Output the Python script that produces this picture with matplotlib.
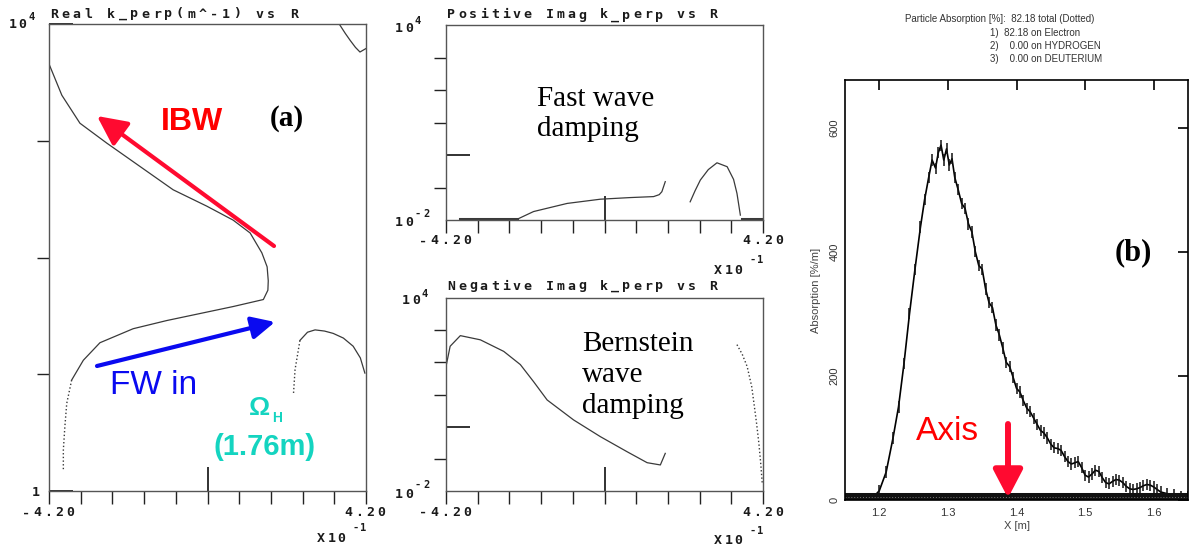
"""Dispersion roots k_perp(R) for the FW -> IBW conversion case, next to the
TORIC-style power absorption profile."""
import numpy as np

import matplotlib
matplotlib.use("Agg")
import matplotlib.pyplot as plt  # noqa: E402
from matplotlib.patches import FancyArrowPatch  # noqa: E402
from matplotlib.ticker import FixedLocator  # noqa: E402

# --- Real k_perp (m^-1): R in units of 1e-1 m, values stored as log10(k)
re_main_x = [-4.19, -3.86, -3.38, -2.67, -1.79, -0.91, -0.02, 0.68, 1.13, 1.44, 1.58,
             1.61, 1.60, 1.48, 0.68, -0.20, -1.08, -1.97, -2.85, -3.29, -3.60]
re_main_logk = [3.65, 3.39, 3.15, 2.98, 2.78, 2.58, 2.44, 2.32, 2.21, 2.04, 1.92,
                1.80, 1.72, 1.64, 1.58, 1.52, 1.46, 1.39, 1.27, 1.12, 0.95]
re_tail_x = [-3.60, -3.73, -3.78, -3.82, -3.82]
re_tail_logk = [0.95, 0.75, 0.55, 0.35, 0.18]
re_arch_x = [2.28, 2.32, 2.45, 2.65, 2.85, 3.10, 3.33, 3.60, 3.86, 4.05, 4.17]
re_arch_logk = [0.84, 1.04, 1.29, 1.36, 1.38, 1.37, 1.35, 1.31, 1.24, 1.14, 1.01]
re_top_x = [3.51, 3.65, 3.78, 3.92, 4.04, 4.20]
re_top_logk = [3.99, 3.92, 3.86, 3.80, 3.76, 3.79]

# --- Positive Imag k_perp
pos_main_x = [-3.82, -3.30, -2.80, -2.32, -1.88, -0.99, -0.11, 0.68, 1.30, 1.45, 1.52, 1.61]
pos_main_logk = [-1.98, -1.98, -1.98, -1.98, -1.74, -1.49, -1.36, -1.31, -1.28, -1.22, -1.13, -0.82]
pos_bump_x = [2.27, 2.40, 2.54, 2.75, 2.98, 3.25, 3.42, 3.51, 3.60]
pos_bump_logk = [-1.44, -1.10, -0.77, -0.45, -0.24, -0.36, -0.75, -1.18, -1.85]
pos_edge_x = [3.65, 3.90, 4.20]
pos_edge_logk = [-1.98, -1.98, -1.98]

# --- Negative Imag k_perp
neg_main_x = [-4.20, -4.09, -3.82, -3.29, -2.67, -2.23, -1.88, -1.52, -0.82, -0.11,
              0.60, 1.13, 1.48, 1.61]
neg_main_logk = [1.87, 2.50, 2.83, 2.70, 2.34, 1.93, 1.40, 0.83, 0.21, -0.31,
                 -0.78, -1.12, -1.19, -0.83]
neg_edge_x = [3.51, 3.65, 3.78, 3.90, 3.96, 4.03, 4.09, 4.14, 4.18]
neg_edge_logk = [2.55, 2.25, 1.87, 1.25, 0.73, 0.10, -0.51, -1.15, -1.76]

# --- Electron absorption profile [%/m] vs major radius X [m]
abs_x = [1.180, 1.190, 1.200, 1.210, 1.220, 1.228, 1.236, 1.244, 1.252, 1.260, 1.266,
         1.272, 1.277, 1.282, 1.286, 1.290, 1.294, 1.298, 1.302, 1.306, 1.310, 1.315,
         1.320, 1.325, 1.330, 1.335, 1.340, 1.345, 1.350, 1.355, 1.360, 1.365, 1.370,
         1.375, 1.380, 1.385, 1.390, 1.395, 1.400, 1.405, 1.410, 1.415, 1.420, 1.425,
         1.430, 1.435, 1.440, 1.445, 1.450, 1.455, 1.460, 1.465, 1.470, 1.475, 1.480,
         1.485, 1.490, 1.495, 1.500, 1.505, 1.510, 1.515, 1.520, 1.525, 1.530, 1.535,
         1.540, 1.545, 1.550, 1.555, 1.560, 1.565, 1.570, 1.575, 1.580, 1.585, 1.590,
         1.595, 1.600, 1.605, 1.610, 1.620, 1.630, 1.640, 1.650]
abs_val = [0, 3, 15, 45, 100, 150, 220, 300, 372, 440, 484,
           520, 548, 535, 560, 572, 548, 566, 540, 550, 520, 500,
           478, 470, 445, 432, 400, 378, 372, 340, 318, 310, 282,
           266, 245, 222, 215, 198, 180, 174, 160, 148, 142, 132,
           122, 112, 108, 100, 90, 84, 83, 80, 70, 62, 58,
           60, 62, 52, 40, 37, 42, 48, 46, 36, 28, 26,
           30, 33, 32, 28, 22, 18, 17, 18, 20, 23, 25,
           24, 21, 17, 13, 10, 8, 6, 5]
abs_header = ["Particle Absorption [%]:  82.18 total (Dotted)",
              "1)  82.18 on Electron",
              "2)    0.00 on HYDROGEN",
              "3)    0.00 on DEUTERIUM"]

W, H = 1189, 554
fig = plt.figure(figsize=(W / 100, H / 100), dpi=100)
fig.patch.set_facecolor("white")


def px(x, y):
    """pixel position (from top-left) -> figure fraction"""
    return x / W, 1 - y / H


def box(l, t, r, b):
    return [l / W, 1 - b / H, (r - l) / W, (b - t) / H]


def mono(x0, y, s, pitch, size=9.5):
    """plotter-style lettering: bold mono glyphs on a fixed wide pitch, x0 = first glyph centre"""
    for i, ch in enumerate(s):
        if ch != " ":
            fig.text(*px(x0 + i * pitch, y), ch, ha="center", va="center", fontsize=size,
                     family="DejaVu Sans Mono", weight="bold", color="#1a1a1a")


def kperp_axes(rect, ylo, yhi, out_ticks, in_ticks):
    ax = fig.add_axes(rect)
    ax.set_yscale("log")
    ax.set_xlim(-4.2, 4.2)
    ax.set_ylim(ylo, yhi)
    ax.xaxis.set_major_locator(FixedLocator(np.linspace(-4.2, 4.2, 11)))
    ax.xaxis.set_minor_locator(FixedLocator([0.0]))
    ax.yaxis.set_major_locator(FixedLocator(out_ticks))
    ax.yaxis.set_minor_locator(FixedLocator(in_ticks))
    ax.xaxis.remove_overlapping_locs = False
    ax.yaxis.remove_overlapping_locs = False
    ax.tick_params(which="major", direction="out", length=9, width=1, color="#222",
                   top=False, right=False, labelbottom=False, labelleft=False)
    ax.tick_params(which="minor", direction="in", length=17, width=1.3, color="#222",
                   top=False, right=False, labelbottom=False, labelleft=False)
    for s in ax.spines.values():
        s.set_color("#555")
        s.set_linewidth(1)
    return ax


def curve(ax, x, logk, **kw):
    ax.plot(x, 10.0 ** np.asarray(logk), color="#3a3a3a", lw=kw.pop("lw", 0.9), **kw)


def power_label(x0, y, exp, xe, ye, exp_pitch=7):
    mono(x0, y, "10", 10)
    mono(xe, ye, exp, exp_pitch, size=7.5)


# ---------------- Real k_perp
ax1 = kperp_axes(box(49, 24, 366, 491), 1, 1e4, [1e1, 1e2, 1e3], [1, 1e4])
curve(ax1, re_main_x, re_main_logk)
curve(ax1, re_tail_x, re_tail_logk, ls=":", lw=1)
curve(ax1, re_arch_x[:3], re_arch_logk[:3], ls=":", lw=1)
curve(ax1, re_arch_x[2:], re_arch_logk[2:])
curve(ax1, re_top_x, re_top_logk)

mono(54, 14, "Real k_perp(m^-1) vs R", 11.43)
power_label(12.5, 25, "4", 32, 17.5)
mono(35.5, 493, "1", 10)
mono(26, 513, "-4.20", 11.1)
mono(348, 513, "4.20", 11.1)
mono(321, 539, "X10", 10.3, size=9.5)
mono(356, 528, "-1", 7, size=7.5)

# ---------------- Positive / Negative Imag k_perp
ax2 = kperp_axes(box(446, 25, 763, 220), 1e-2, 1e4, [1e-1, 1e1, 1e2, 1e3], [1])
curve(ax2, pos_main_x, pos_main_logk)
curve(ax2, pos_main_x[:4], pos_main_logk[:4], lw=2.2)
curve(ax2, pos_bump_x, pos_bump_logk)
curve(ax2, pos_edge_x, pos_edge_logk, lw=2.2)

ax3 = kperp_axes(box(446, 298, 763, 491), 1e-2, 1e4, [1e-1, 1e1, 1e2, 1e3], [1])
curve(ax3, neg_main_x, neg_main_logk)
curve(ax3, neg_edge_x, neg_edge_logk, ls=":", lw=1)

for ytop, ybot, x10, title in [(15, 220, 399, "Positive Imag k_perp vs R"),
                               (286, 491, 406, "Negative Imag k_perp vs R")]:
    mono(451, ytop, title, 10.94)
    y10 = ytop + 13 if ytop < 100 else ytop + 15
    power_label(x10, y10, "4", x10 + 18.5, y10 - 7)
    power_label(399, ybot + 3, "-2", 418, ybot - 6, exp_pitch=9)
    mono(423, ybot + 21, "-4.20", 11.1)
    mono(746, ybot + 21, "4.20", 11.1)
    mono(718, ybot + 50, "X10", 10.3)
    mono(753, ybot + 40, "-1", 7, size=7.5)

# ---------------- absorption profile (b)
axb = fig.add_axes(box(845, 80, 1188, 500))
axb.set_xlim(1.15, 1.65)
axb.set_ylim(0, 677)
axb.set_xticks([1.2, 1.3, 1.4, 1.5, 1.6])
axb.set_yticks([0, 200, 400, 600])
axb.tick_params(direction="in", top=True, right=True, bottom=False, left=False,
                length=7, width=1.2, labelsize=8, labelcolor="#333", pad=6)
axb.tick_params(axis="y", labelrotation=90, pad=4)
for t in axb.get_yticklabels():
    t.set_family("Liberation Sans")
    t.set_va("center")
for t in axb.get_xticklabels():
    t.set_family("Liberation Sans")
for s in axb.spines.values():
    s.set_linewidth(1.2)
axb.set_xlabel("X [m]", fontsize=8, color="#444", family="Liberation Sans", labelpad=2)
axb.set_ylabel("Absorption [%/m]", fontsize=8, color="#444", family="Liberation Sans",
               labelpad=6)

av = np.asarray(abs_val, dtype=float)
axb.plot(abs_x, av, color="k", lw=1.2)
axb.vlines(abs_x, av - 9, av + 9, color="#111", lw=1.1)
# total (dotted) and ion channels stacked on the zero line
axb.axhline(5, color="#111", lw=6.5)
axb.axhline(5, color="#777", lw=0.7, ls=(0, (1, 2)))

fig.text(*px(1000, 19), abs_header[0], ha="center", va="center", fontsize=7,
         family="Liberation Sans", color="#333")
for i, line in enumerate(abs_header[1:]):
    fig.text(*px(990, 33.5 + 12.7 * i), line, ha="left", va="center", fontsize=7,
             family="Liberation Sans", color="#333")

# ---------------- annotations
RED, BLUE, CYAN = "#ff0a30", "#0a0af0", "#14d4c0"


def arrow(p0, p1, color, lw, hl, hw):
    fig.add_artist(FancyArrowPatch(px(*p0), px(*p1), transform=fig.transFigure,
                                   arrowstyle=f"-|>,head_length={hl},head_width={hw}",
                                   mutation_scale=40, lw=lw, color=color,
                                   shrinkA=0, shrinkB=0))


arrow((274, 246), (97, 116), RED, 3, 0.45, 0.22)
arrow((97, 366), (275, 322), BLUE, 3, 0.35, 0.17)
arrow((1008, 424), (1008, 498), RED, 4.3, 0.42, 0.22)

fig.text(*px(192, 122), "IBW", ha="center", va="center", fontsize=23, weight="bold",
         family="Liberation Sans", color="#ff0000")
fig.text(*px(154, 386), "FW in", ha="center", va="center", fontsize=24,
         family="Liberation Sans", color=BLUE)
fig.text(*px(260, 408), "Ω", ha="center", va="center", fontsize=19, weight="bold",
         family="Liberation Sans", color=CYAN)
fig.text(*px(277, 418), "H", ha="center", va="center", fontsize=10, weight="bold",
         family="Liberation Sans", color=CYAN)
fig.text(*px(265, 447), "(1.76m)", ha="center", va="center", fontsize=21, weight="bold",
         family="Liberation Sans", color=CYAN)
fig.text(*px(947, 432), "Axis", ha="center", va="center", fontsize=24,
         family="Liberation Sans", color="#ff0000")

fig.text(*px(287, 119), "(a)", ha="center", va="center", fontsize=21, weight="bold",
         family="Liberation Serif")
fig.text(*px(1133, 253), "(b)", ha="center", va="center", fontsize=22, weight="bold",
         family="Liberation Serif")
fig.text(*px(537, 114), "Fast wave\ndamping", ha="left", va="center", fontsize=21,
         family="Liberation Serif", linespacing=1.2)
fig.text(*px(582, 375), "Bernstein\nwave\ndamping", ha="left", va="center", fontsize=21,
         family="Liberation Serif", linespacing=1.25)

fig.savefig("out.png", dpi=100)
